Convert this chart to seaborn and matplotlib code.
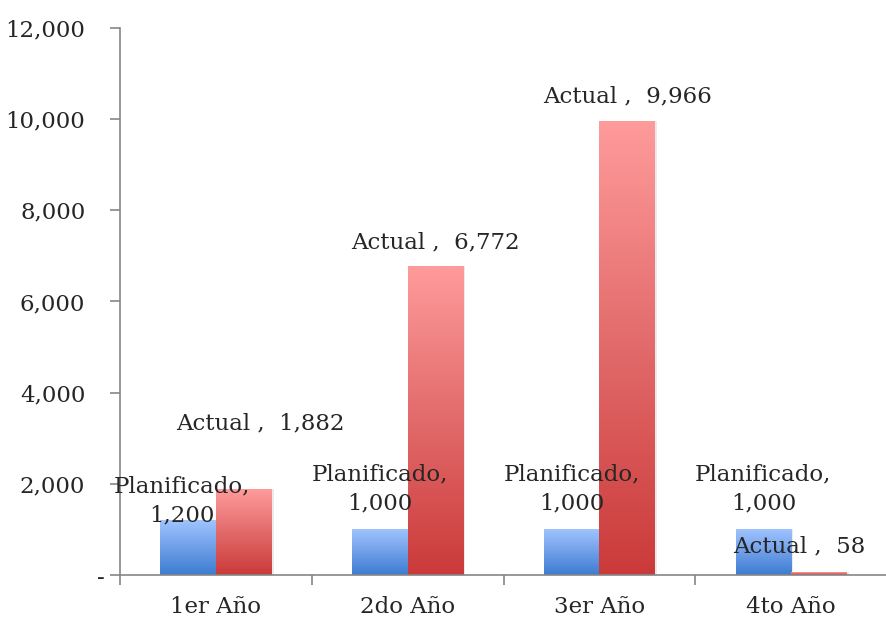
import numpy as np
import pandas as pd
import seaborn as sns
import matplotlib.pyplot as plt
import matplotlib.transforms as mtrans
from matplotlib.colors import LinearSegmentedColormap
from matplotlib.ticker import FuncFormatter

# data
categories = ["1er Año", "2do Año", "3er Año", "4to Año"]
planificado = [1200, 1000, 1000, 1000]
actual = [1882, 6772, 9966, 58]
series_names = ["Planificado", "Actual"]

df = pd.DataFrame({
    "Año": categories * 2,
    "Valor": planificado + actual,
    "Serie": ["Planificado"] * 4 + ["Actual"] * 4,
})

sns.set_style("white")
plt.rcParams["font.family"] = ["DejaVu Serif"]
FS = 16.5

fig = plt.figure(figsize=(8.87, 6.21), dpi=100)
ax = fig.add_axes([0.1353, 0.074, 0.8647, 0.881])

sns.barplot(data=df, x="Año", y="Valor", hue="Serie", hue_order=series_names,
            palette=["#6fa0ea", "#e36a6a"], width=0.58, legend=False, ax=ax)

ax.set_xlim(-0.5, 3.5)
ax.set_ylim(0, 12000)

# vertical gradient fill, light at top and dark at bottom
cmaps = [
    LinearSegmentedColormap.from_list("b", ["#3d7cd0", "#6f9fe8", "#9fc4ff"]),
    LinearSegmentedColormap.from_list("r", ["#cb3a3a", "#e26a6a", "#ff9b9b"]),
]
grad = np.linspace(0, 1, 256).reshape(-1, 1)
for cont, cmap in zip(ax.containers, cmaps):
    for bar in cont:
        x, w, h = bar.get_x(), bar.get_width(), bar.get_height()
        if h <= 0:
            continue
        # faint shadow on the right side
        ax.add_patch(plt.Rectangle((x + w, 0), w * 0.04, h, color="#000000",
                                   alpha=0.08, lw=0, zorder=1))
        im = ax.imshow(grad, cmap=cmap, origin="lower", aspect="auto",
                       extent=[x, x + w, 0, h], zorder=2)
        im.set_clip_path(bar)
        bar.set_facecolor("none")
        bar.set_edgecolor("none")

ax.set_xlim(-0.5, 3.5)
ax.set_ylim(0, 12000)

# data labels (offsets in x category units / y data units)
plan_offsets = [(-0.03, 434), (0, 897), (0, 897), (0, 897)]
act_offsets = [(0.085, 1450), (0, 530), (0, 538), (-0.105, 578)]
for i, v in enumerate(planificado):
    bx = ax.containers[0][i]
    cx = bx.get_x() + bx.get_width() / 2 + plan_offsets[i][0]
    ax.text(cx, v + plan_offsets[i][1], f"Planificado,\n{v:,}",
            ha="center", va="center", fontsize=FS, linespacing=1.4, zorder=5)
for i, v in enumerate(actual):
    br = ax.containers[1][i]
    cx = br.get_x() + br.get_width() / 2 + act_offsets[i][0]
    ax.text(cx, v + act_offsets[i][1], f"Actual ,  {v:,}",
            ha="center", va="center", fontsize=FS, zorder=5)

# axes styling
for s in ["top", "right"]:
    ax.spines[s].set_visible(False)
for s in ["left", "bottom"]:
    ax.spines[s].set_color("#868686")
    ax.spines[s].set_linewidth(1.2)

ax.set_yticks(np.arange(0, 12001, 2000))
ax.yaxis.set_major_formatter(FuncFormatter(lambda v, p: "-" if v == 0 else f"{int(v):,}"))
ax.tick_params(axis="y", direction="out", length=7, color="#868686", width=1.2,
               labelsize=FS, pad=18, left=True)

# the zero dash sits closer to the axis, like the accounting format
zero_lbl = ax.yaxis.get_major_ticks()[0].label1
zero_lbl.set_transform(zero_lbl.get_transform()
                       + mtrans.ScaledTranslation(0.19, 0, fig.dpi_scale_trans))

ax.set_xticks(np.arange(-0.5, 3.6, 1.0))
ax.set_xticklabels([])
ax.set_xticks(np.arange(len(categories)), minor=True)
ax.set_xticklabels(categories, minor=True, fontsize=FS)
ax.tick_params(axis="x", which="major", direction="out", length=7,
               color="#868686", width=1.2, bottom=True)
ax.tick_params(axis="x", which="minor", length=0, pad=15)

ax.set_xlabel("")
ax.set_ylabel("")

fig.savefig("out.png", dpi=100)
